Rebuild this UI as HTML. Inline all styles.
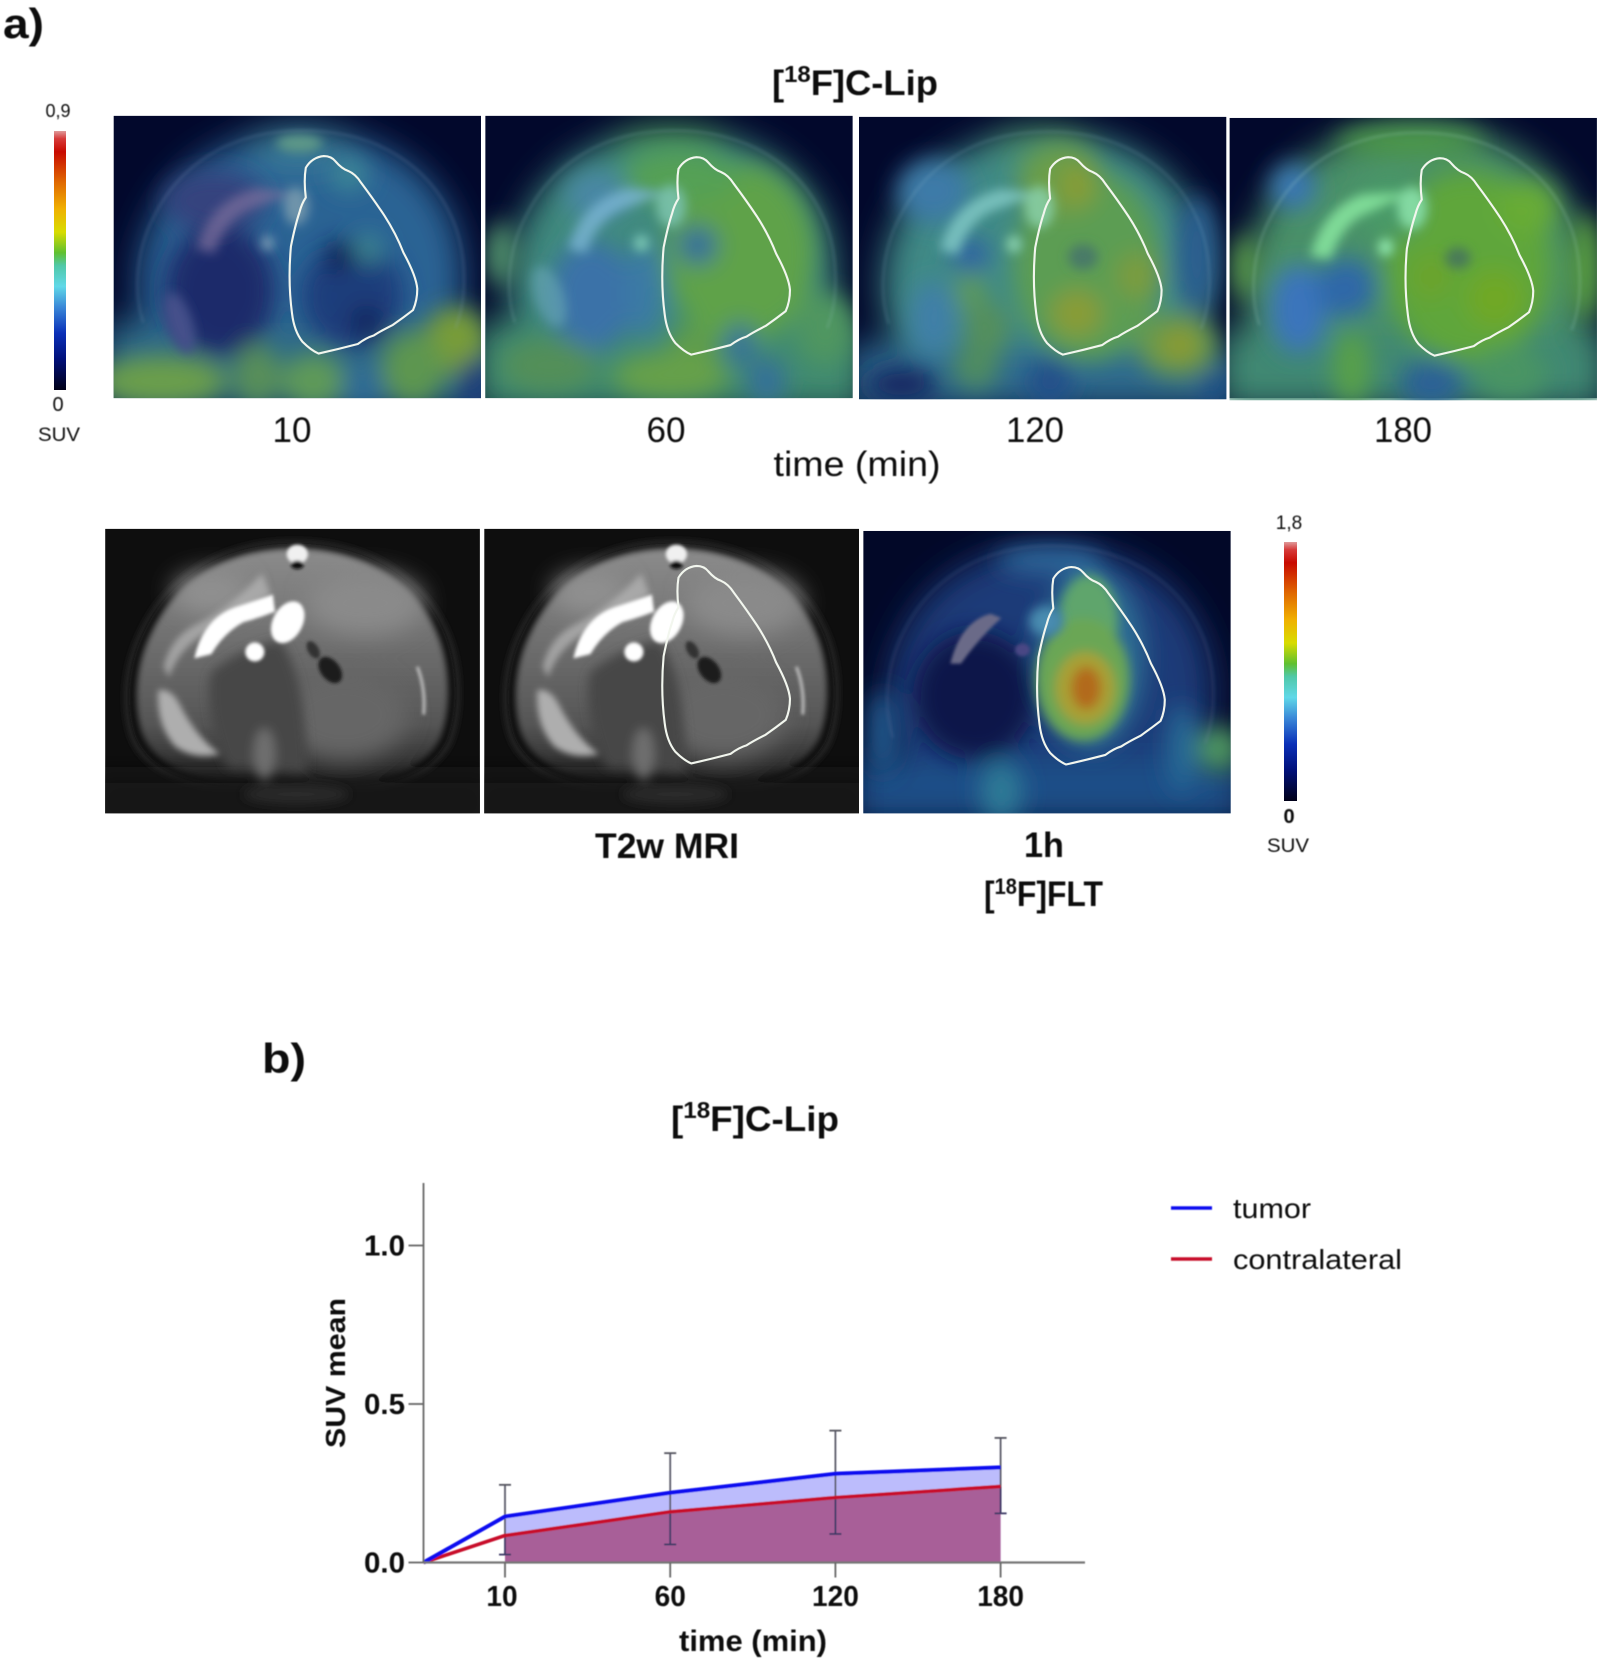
<!DOCTYPE html>
<html lang="en">
<head>
<meta charset="utf-8">
<title>[18F]C-Lip figure</title>
<style>
html,body{margin:0;padding:0;background:#fff;width:1599px;height:1663px;overflow:hidden}
svg{display:block}
.c{font-family:"Liberation Sans",sans-serif;fill:#111}
.b{font-weight:bold}
.m{text-anchor:middle}
</style>
</head>
<body>
<svg id="figure" xmlns="http://www.w3.org/2000/svg" width="1599" height="1663" viewBox="0 0 1599 1663">
<defs>
<filter id="b22" x="-20%" y="-20%" width="140%" height="140%"><feGaussianBlur stdDeviation="16"/></filter>
<filter id="b12" x="-30%" y="-30%" width="160%" height="160%"><feGaussianBlur stdDeviation="11"/></filter>
<filter id="b6" x="-30%" y="-30%" width="160%" height="160%"><feGaussianBlur stdDeviation="5"/></filter>
<filter id="b3" x="-30%" y="-30%" width="160%" height="160%"><feGaussianBlur stdDeviation="3"/></filter>
<filter id="b2" x="-30%" y="-30%" width="160%" height="160%"><feGaussianBlur stdDeviation="1.6"/></filter>
<filter id="soft" x="-2%" y="-2%" width="104%" height="104%"><feGaussianBlur stdDeviation="0.55"/></filter>
<clipPath id="cp1"><rect width="346" height="266"/></clipPath>
<clipPath id="cpm"><rect width="353" height="268"/></clipPath>
<linearGradient id="cbar" x1="0" y1="0" x2="0" y2="1">
<stop offset="0" stop-color="#e09a9a"/><stop offset="0.03" stop-color="#d63a3a"/><stop offset="0.08" stop-color="#c80a00"/><stop offset="0.2" stop-color="#e06a00"/><stop offset="0.3" stop-color="#f0b000"/><stop offset="0.39" stop-color="#d8dc00"/><stop offset="0.47" stop-color="#60c030"/><stop offset="0.52" stop-color="#50c8a8"/><stop offset="0.6" stop-color="#60d8e8"/><stop offset="0.68" stop-color="#3a88d8"/><stop offset="0.78" stop-color="#0a30b8"/><stop offset="0.88" stop-color="#00107a"/><stop offset="1" stop-color="#000018"/>
</linearGradient>
<linearGradient id="mriGray" x1="0" y1="0" x2="0" y2="1">
<stop offset="0" stop-color="#8c8c8c"/><stop offset="0.4" stop-color="#6f6f6f"/><stop offset="0.75" stop-color="#565656"/><stop offset="1" stop-color="#222"/>
</linearGradient>
<path id="head" d="M178,14 C250,14 298,50 318,95 C332,125 334,170 322,200 C305,232 270,240 240,242 L115,242 C75,240 40,225 28,195 C18,165 22,125 38,95 C60,50 106,14 178,14 Z"/>
<path id="arc" d="M28,195 C18,165 22,125 38,95 C60,50 106,14 178,14 C250,14 298,50 318,95 C332,125 334,170 322,200" fill="none"/>
<path id="roi" d="M305,147 Q312,147 316,152 Q322,159 328,161 Q335,164 340,172 Q352,188 362,203 Q373,220 380,238 Q392,260 393,272 Q393,283 389,292 Q380,299 370,306 Q358,312 352,316 Q345,318 337,324 Q318,329 300,333 Q293,330 285,322 Q277,312 275,295 Q271,265 274,232 Q278,212 282,200 Q284,192 288,186 Q286,170 288,158 Q294,148 305,147 Z" fill="none" stroke="#f2f6ee" stroke-width="2" stroke-linejoin="round"/>
<g id="mriBody">
<rect width="353" height="268" fill="#0e0e0e"/>
<g filter="url(#b3)">
<use href="#head" fill="#262626" transform="translate(178 130) scale(1.03) translate(-178 -130)"/>
</g>
<g filter="url(#b2)">
<use href="#head" fill="#101010" transform="translate(178 130) scale(1 1) translate(-178 -130)"/>
</g>
<g filter="url(#b3)">
<use href="#head" fill="url(#mriGray)" transform="translate(178 130) scale(.955 .965) translate(-178 -130)"/>
</g>
<g filter="url(#b12)">
<ellipse cx="245" cy="70" rx="55" ry="30" fill="#8a8a8a"/>
<ellipse cx="100" cy="60" rx="36" ry="20" fill="#909090"/>
<ellipse cx="225" cy="175" rx="60" ry="42" fill="#666"/>
<rect x="-10" y="232" width="373" height="50" fill="#161616"/>
</g>
<g filter="url(#b6)">
<path d="M100,135 Q128,112 165,105 Q190,140 190,230 L115,225 Q92,170 100,135Z" fill="#464646"/>
<ellipse cx="150" cy="212" rx="10" ry="24" fill="#6e6e6e"/>
<ellipse cx="180" cy="250" rx="50" ry="9" fill="#2a2a2a"/>
</g>
<g filter="url(#b3)">
<path d="M55,130 Q62,100 90,88 Q120,72 148,42 L156,62 Q120,82 95,98 Q70,112 60,140Z" fill="#b8b8b8" opacity=".7"/>
<path d="M50,152 Q62,150 70,165 Q85,195 108,212 Q85,218 66,205 Q48,185 50,152Z" fill="#aeaeae"/>
</g>
<g filter="url(#b2)">
<path d="M84,122 Q92,85 122,74 Q146,66 158,62 L160,78 Q145,84 130,88 Q112,98 100,118 Z" fill="#fff"/>
<ellipse cx="172" cy="88" rx="14" ry="21" fill="#fff" transform="rotate(28 172 88)"/>
<ellipse cx="141" cy="116" rx="9" ry="9" fill="#fff"/>
<ellipse cx="181" cy="24" rx="10" ry="9" fill="#f0f0f0"/>
<ellipse cx="181" cy="34" rx="6" ry="4" fill="#111"/>
<ellipse cx="212" cy="133" rx="9" ry="14" fill="#1a1a1a" transform="rotate(-38 212 133)"/>
<ellipse cx="196" cy="114" rx="5" ry="9" fill="#333" transform="rotate(-30 196 114)"/>
<path d="M294,130 Q302,150 300,175" fill="none" stroke="#bcbcbc" stroke-width="3"/>
</g>
</g>
</defs>

<g id="panels" transform="scale(1.0618)">

<g transform="translate(107,109)">
<g clip-path="url(#cp1)">
<rect width="346" height="266" fill="#02082c"/>
<g filter="url(#b22)">
<use href="#head" fill="#2a6494"/>
<rect x="-10" y="195" width="366" height="80" fill="#2d6b88"/>
<ellipse cx="175" cy="28" rx="50" ry="18" fill="#3c8098"/>
</g>
<g filter="url(#b12)">
<ellipse cx="100" cy="165" rx="52" ry="62" fill="#1a2c6a"/>
<ellipse cx="225" cy="170" rx="48" ry="50" fill="#1f3e7c"/>
<ellipse cx="95" cy="80" rx="48" ry="28" fill="#36427e"/>
<ellipse cx="213" cy="132" rx="14" ry="14" fill="#0f1a50"/>
<ellipse cx="238" cy="195" rx="16" ry="18" fill="#16265f"/>
<ellipse cx="240" cy="125" rx="12" ry="14" fill="#3f8a90"/>
<ellipse cx="222" cy="55" rx="18" ry="16" fill="#3d8896"/>
<ellipse cx="45" cy="250" rx="62" ry="24" fill="#6a9e4c"/>
<ellipse cx="135" cy="245" rx="22" ry="30" fill="#588f58"/>
<ellipse cx="188" cy="250" rx="30" ry="26" fill="#5e9a58"/>
<ellipse cx="322" cy="212" rx="30" ry="32" fill="#789c38"/>
<ellipse cx="282" cy="238" rx="30" ry="35" fill="#5d9650"/>
<ellipse cx="342" cy="255" rx="18" ry="28" fill="#1d3f7a"/>
<ellipse cx="235" cy="255" rx="20" ry="20" fill="#2f6a96"/>
</g>
<g filter="url(#b6)">
<path d="M78,125 Q90,80 135,68 L172,72 L125,90 Q105,100 95,130Z" fill="#7d6f9e" opacity=".7"/>
<ellipse cx="172" cy="85" rx="12" ry="18" fill="#7fa0b0" opacity=".8"/>
<ellipse cx="145" cy="120" rx="6" ry="7" fill="#7fa0b8"/>
<ellipse cx="175" cy="26" rx="22" ry="8" fill="#5f9a88"/>
<ellipse cx="62" cy="195" rx="12" ry="30" fill="#44508a" transform="rotate(-18 62 195)"/>
</g>
<use href="#arc" stroke="#8aa8c8" stroke-width="2" opacity=".22" filter="url(#b2)"/>
</g>
</g>

<g transform="translate(457,109)">
<g clip-path="url(#cp1)">
<rect width="348" height="266" fill="#02082c"/>
<g filter="url(#b22)">
<use href="#head" fill="#3f8a7e"/>
<rect x="-10" y="195" width="370" height="85" fill="#3f8a70"/>
<ellipse cx="175" cy="26" rx="55" ry="16" fill="#4c9a60"/>
</g>
<g filter="url(#b12)">
<ellipse cx="240" cy="130" rx="70" ry="85" fill="#5fa248"/>
<ellipse cx="185" cy="58" rx="55" ry="25" fill="#55a055"/>
<ellipse cx="100" cy="170" rx="40" ry="52" fill="#3a72a8"/>
<ellipse cx="105" cy="75" rx="30" ry="24" fill="#4a87a4"/>
<ellipse cx="200" cy="122" rx="18" ry="18" fill="#336a9e"/>
<ellipse cx="150" cy="165" rx="18" ry="45" fill="#3a7aa4"/>
<ellipse cx="240" cy="215" rx="14" ry="20" fill="#35709c"/>
<ellipse cx="195" cy="225" rx="24" ry="28" fill="#5e9c4c"/>
<ellipse cx="60" cy="235" rx="45" ry="25" fill="#528f58"/>
<ellipse cx="175" cy="245" rx="55" ry="22" fill="#66a04a"/>
<ellipse cx="265" cy="250" rx="18" ry="22" fill="#34709a"/>
<ellipse cx="320" cy="200" rx="28" ry="35" fill="#4f9660"/>
<ellipse cx="15" cy="130" rx="15" ry="30" fill="#4f8f6a"/>
</g>
<g filter="url(#b6)">
<path d="M78,125 Q90,80 135,68 L172,72 L125,90 Q105,100 95,130Z" fill="#7fb8d8" opacity=".75"/>
<ellipse cx="175" cy="85" rx="14" ry="20" fill="#7cc4b0" opacity=".85"/>
<ellipse cx="147" cy="120" rx="7" ry="8" fill="#7cc8b4"/>
<ellipse cx="60" cy="170" rx="14" ry="30" fill="#6aa8b8" opacity=".6" transform="rotate(-20 60 170)"/>
</g>
<use href="#arc" stroke="#9cc8c8" stroke-width="2" opacity=".22" filter="url(#b2)"/>
</g>
</g>

<g transform="translate(809,110)">
<g clip-path="url(#cp1)">
<rect width="346" height="266" fill="#02082c"/>
<g filter="url(#b22)">
<use href="#head" fill="#3f8a86"/>
<rect x="-10" y="215" width="366" height="60" fill="#2d6a8e"/>
<ellipse cx="172" cy="26" rx="50" ry="16" fill="#4c9470"/>
</g>
<g filter="url(#b12)">
<ellipse cx="215" cy="140" rx="70" ry="90" fill="#5c9d52"/>
<ellipse cx="190" cy="60" rx="40" ry="35" fill="#6a9e48"/>
<ellipse cx="205" cy="65" rx="14" ry="20" fill="#8a9c30"/>
<ellipse cx="205" cy="185" rx="24" ry="22" fill="#8a9c34"/>
<ellipse cx="262" cy="150" rx="20" ry="22" fill="#7b9c3c"/>
<ellipse cx="105" cy="130" rx="18" ry="16" fill="#2f62a4"/>
<ellipse cx="70" cy="70" rx="34" ry="30" fill="#3d7aa8"/>
<ellipse cx="70" cy="190" rx="22" ry="35" fill="#3f7fa8"/>
<ellipse cx="105" cy="165" rx="14" ry="18" fill="#5e9a58"/>
<ellipse cx="120" cy="200" rx="22" ry="26" fill="#548f5c"/>
<ellipse cx="40" cy="252" rx="34" ry="18" fill="#122a64"/>
<ellipse cx="180" cy="250" rx="22" ry="22" fill="#24508a"/>
<ellipse cx="110" cy="235" rx="22" ry="22" fill="#4f8c60"/>
<ellipse cx="300" cy="215" rx="38" ry="30" fill="#6c9a48"/>
<ellipse cx="302" cy="215" rx="15" ry="15" fill="#8f9a2c"/>
<ellipse cx="318" cy="130" rx="20" ry="55" fill="#2a5e90"/>
<ellipse cx="335" cy="255" rx="16" ry="16" fill="#1f4f86"/>
</g>
<g filter="url(#b6)">
<path d="M76,125 Q88,80 133,68 L170,72 L123,90 Q103,100 93,130Z" fill="#84ccc8" opacity=".8"/>
<ellipse cx="170" cy="85" rx="14" ry="20" fill="#88d0a8" opacity=".85"/>
<ellipse cx="146" cy="120" rx="7" ry="8" fill="#88d0b0"/>
<ellipse cx="211" cy="132" rx="14" ry="12" fill="#4a7a68"/>
</g>
<use href="#arc" stroke="#9cc8d8" stroke-width="2" opacity=".2" filter="url(#b2)"/>
</g>
</g>

<g transform="translate(1158,111)">
<g clip-path="url(#cp1)">
<rect width="346" height="264" fill="#02082c"/>
<g filter="url(#b22)">
<use href="#head" fill="#4a9068" transform="translate(173 130) scale(1.06) translate(-173 -130)"/>
<rect x="-10" y="200" width="366" height="75" fill="#3f8872"/>
</g>
<g filter="url(#b12)">
<ellipse cx="170" cy="22" rx="70" ry="14" fill="#4d9a48"/>
<ellipse cx="225" cy="140" rx="78" ry="90" fill="#5fa63a"/>
<ellipse cx="280" cy="85" rx="28" ry="25" fill="#68ac34"/>
<ellipse cx="250" cy="170" rx="28" ry="28" fill="#70a828"/>
<ellipse cx="190" cy="150" rx="18" ry="22" fill="#6ca42c"/>
<ellipse cx="60" cy="65" rx="22" ry="22" fill="#3a78b4"/>
<ellipse cx="65" cy="180" rx="28" ry="42" fill="#3a74bc"/>
<ellipse cx="110" cy="160" rx="28" ry="28" fill="#2e68a8"/>
<ellipse cx="150" cy="85" rx="30" ry="30" fill="#4a9a68"/>
<ellipse cx="190" cy="250" rx="30" ry="22" fill="#2a6096"/>
<ellipse cx="115" cy="235" rx="18" ry="35" fill="#58a048"/>
<ellipse cx="265" cy="240" rx="35" ry="25" fill="#4a9464"/>
<ellipse cx="15" cy="140" rx="12" ry="30" fill="#5a9c48"/>
<ellipse cx="335" cy="140" rx="14" ry="50" fill="#5aa040"/>
</g>
<g filter="url(#b6)">
<path d="M76,130 Q88,85 125,72 L172,70 L125,92 Q106,102 95,133Z" fill="#88e8a0" opacity=".85"/>
<ellipse cx="172" cy="85" rx="14" ry="20" fill="#88e0a8" opacity=".9"/>
<ellipse cx="147" cy="122" rx="7" ry="8" fill="#90e8b0"/>
<ellipse cx="215" cy="132" rx="12" ry="10" fill="#4a7a58"/>
</g>
<use href="#arc" stroke="#b0e0d0" stroke-width="2" opacity=".25" filter="url(#b2)"/>
</g>
</g>

<g transform="translate(99,498)">
<g clip-path="url(#cpm)"><use href="#mriBody"/></g>
</g>

<g transform="translate(456,498)">
<g clip-path="url(#cpm)"><use href="#mriBody"/></g>
</g>

<g transform="translate(813,500)">
<g clip-path="url(#cp1)">
<rect width="348" height="266" fill="#020828"/>
<g filter="url(#b22)">
<use href="#head" fill="#1d3a78"/>
<rect x="-10" y="215" width="370" height="60" fill="#1f5088"/>
</g>
<g filter="url(#b12)">
<ellipse cx="105" cy="155" rx="58" ry="60" fill="#10134a"/>
<ellipse cx="175" cy="28" rx="50" ry="12" fill="#2f6a9c"/>
<ellipse cx="215" cy="120" rx="50" ry="85" fill="#2f6e94"/>
<ellipse cx="130" cy="245" rx="20" ry="28" fill="#2f7a96"/>
<ellipse cx="335" cy="205" rx="20" ry="22" fill="#4f9860"/>
<ellipse cx="300" cy="205" rx="14" ry="42" fill="#276a96"/>
<ellipse cx="18" cy="190" rx="14" ry="40" fill="#245a8e"/>
</g>
<g filter="url(#b6)">
<ellipse cx="212" cy="85" rx="28" ry="44" fill="#5fa56c"/>
<ellipse cx="207" cy="140" rx="44" ry="58" fill="#6aa654"/>
<ellipse cx="209" cy="148" rx="28" ry="34" fill="#a8a034"/>
<ellipse cx="210" cy="148" rx="14" ry="20" fill="#b26a1e"/>
</g>
<g filter="url(#b2)">
<path d="M82,125 Q92,85 120,78 L130,82 Q110,100 92,125Z" fill="#6a6a88"/>
<ellipse cx="150" cy="112" rx="7" ry="6" fill="#4a4684"/>
</g>
<g filter="url(#b6)"><ellipse cx="172" cy="85" rx="16" ry="14" fill="#4a8cb0"/></g>
<use href="#arc" stroke="#8890b8" stroke-width="2" opacity=".2" filter="url(#b2)"/>
</g>
</g>

<use href="#roi"/>
<use href="#roi" x="351" y="1"/>
<use href="#roi" x="701" y="1"/>
<use href="#roi" x="1051" y="2"/>
<use href="#roi" x="351" y="386"/>
<use href="#roi" x="704" y="387"/>
</g>

<rect x="54" y="131" width="12" height="259" fill="url(#cbar)"/>
<rect x="1284" y="542" width="13" height="259" fill="url(#cbar)"/>

<g id="texts" filter="url(#soft)">
<text class="c b" x="3" y="38" font-size="42" textLength="41" lengthAdjust="spacingAndGlyphs">a)</text>
<text class="c b" x="772" y="95" font-size="35" textLength="166" lengthAdjust="spacingAndGlyphs">[<tspan font-size="23" dy="-13">18</tspan><tspan dy="13">F]C-Lip</tspan></text>
<text class="c m" x="58" y="117" font-size="18">0,9</text>
<text class="c m" x="58" y="411" font-size="20">0</text>
<text class="c m" x="59" y="441" font-size="19" textLength="42" lengthAdjust="spacingAndGlyphs">SUV</text>
<text class="c m" x="292" y="442" font-size="35" textLength="39" lengthAdjust="spacingAndGlyphs">10</text>
<text class="c m" x="666" y="442" font-size="35" textLength="39" lengthAdjust="spacingAndGlyphs">60</text>
<text class="c m" x="1035" y="442" font-size="35" textLength="58" lengthAdjust="spacingAndGlyphs">120</text>
<text class="c m" x="1403" y="442" font-size="35" textLength="58" lengthAdjust="spacingAndGlyphs">180</text>
<text class="c m" x="857" y="476" font-size="35" textLength="167" lengthAdjust="spacingAndGlyphs">time (min)</text>
<text class="c b m" x="667" y="858" font-size="35" textLength="144" lengthAdjust="spacingAndGlyphs">T2w MRI</text>
<text class="c b m" x="1044" y="857" font-size="35" textLength="40" lengthAdjust="spacingAndGlyphs">1h</text>
<text class="c b" x="984" y="906" font-size="35" textLength="119" lengthAdjust="spacingAndGlyphs">[<tspan font-size="22" dy="-12">18</tspan><tspan dy="12">F]FLT</tspan></text>
<text class="c m" x="1289" y="529" font-size="19">1,8</text>
<text class="c b m" x="1289" y="823" font-size="20">0</text>
<text class="c m" x="1288" y="852" font-size="19" textLength="42" lengthAdjust="spacingAndGlyphs">SUV</text>
<text class="c b" x="262" y="1073" font-size="42" textLength="44" lengthAdjust="spacingAndGlyphs">b)</text>
</g>

<g id="chart" filter="url(#soft)"></g>
</svg>

<script>
var categories = ["10", "60", "120", "180"];
var tumorValues = [0.145, 0.22, 0.28, 0.30];
var contralateralValues = [0.085, 0.16, 0.205, 0.24];
var tumorUpper = [0.245, 0.345, 0.416, 0.393];
var contralateralLower = [0.025, 0.057, 0.09, 0.155];
var originValue = 0;
var yTicks = [0, 0.5, 1.0];
var yTickLabels = ["0.0", "0.5", "1.0"];
var legendLabels = ["tumor", "contralateral"];

var NS = "http://www.w3.org/2000/svg";
var chart = document.getElementById("chart");
var AX = 423.5, AY = 1562.5, PER_UNIT = 317, FIRST = 505, STEP = 165.2;

function xScale(i) { return FIRST + i * STEP; }
function yScale(v) { return AY - v * PER_UNIT; }
function mk(tag, attrs, text) {
  var e = document.createElementNS(NS, tag);
  for (var k in attrs) { e.setAttribute(k, attrs[k]); }
  if (text !== undefined) { e.textContent = text; }
  return e;
}
function linePts(vals) {
  var p = [AX + "," + yScale(originValue)];
  vals.forEach(function (v, i) { p.push(xScale(i) + "," + yScale(v)); });
  return p.join(" ");
}
function areaPts(vals) {
  var p = [xScale(0) + "," + AY];
  vals.forEach(function (v, i) { p.push(xScale(i) + "," + yScale(v)); });
  p.push(xScale(vals.length - 1) + "," + AY);
  return p.join(" ");
}

var title = mk("text", { "class": "c b", x: 671, y: 1131, "font-size": 35, textLength: 168, lengthAdjust: "spacingAndGlyphs" });


title.innerHTML = '[<tspan font-size="23" dy="-13">18</tspan><tspan dy="13">F]C-Lip</tspan>';
chart.appendChild(title);

var tumorArea = mk("polygon", { points: areaPts(tumorValues), fill: "#bcbcfc" });


chart.appendChild(tumorArea);

var contraArea = mk("polygon", { points: areaPts(contralateralValues), fill: "#a85e98" });


chart.appendChild(contraArea);

categories.forEach(function (c, i) {
  var x = xScale(i);
  var top = yScale(tumorUpper[i]), bot = yScale(contralateralLower[i]);
  var stem = mk("line", { x1: x, x2: x, y1: top, y2: yScale(contralateralValues[i]), stroke: "#5c5c6a", "stroke-width": 1.8 });
  
  
  chart.appendChild(stem);
  var lower = mk("line", { x1: x, x2: x, y1: yScale(contralateralValues[i]), y2: bot, stroke: "#3e3a66", "stroke-width": 1.8 });
  
  
  chart.appendChild(lower);
  var capT = mk("line", { x1: x - 6, x2: x + 6, y1: top, y2: top, stroke: "#55555f", "stroke-width": 1.8 });
  
  
  chart.appendChild(capT);
  var capB = mk("line", { x1: x - 6, x2: x + 6, y1: bot, y2: bot, stroke: "#3e3a66", "stroke-width": 1.8 });
  
  
  chart.appendChild(capB);
});

var redLine = mk("polyline", { points: linePts(contralateralValues), fill: "none", stroke: "#c8102a", "stroke-width": 3.6 });


chart.appendChild(redLine);

var blueLine = mk("polyline", { points: linePts(tumorValues), fill: "none", stroke: "#1010f0", "stroke-width": 4 });


chart.appendChild(blueLine);

var yAxis = mk("line", { x1: AX, x2: AX, y1: 1183, y2: AY, stroke: "#666", "stroke-width": 1.8 });


chart.appendChild(yAxis);

var xAxis = mk("line", { x1: AX, x2: 1085, y1: AY, y2: AY, stroke: "#777", "stroke-width": 2.2 });


chart.appendChild(xAxis);

yTicks.forEach(function (t, i) {
  var y = yScale(t);
  var tick = mk("line", { x1: AX - 15, x2: AX, y1: y, y2: y, stroke: "#666", "stroke-width": 1.8 });
  
  
  chart.appendChild(tick);
  var lab = mk("text", { "class": "c b", x: 405, y: y + 10, "font-size": 29, "text-anchor": "end", textLength: 41, lengthAdjust: "spacingAndGlyphs" }, yTickLabels[i]);
  
  
  chart.appendChild(lab);
});

categories.forEach(function (c, i) {
  var x = xScale(i);
  var tick = mk("line", { x1: x, x2: x, y1: AY, y2: AY + 15, stroke: "#666", "stroke-width": 1.8 });
  
  
  chart.appendChild(tick);
  var lab = mk("text", { "class": "c b m", x: i === 0 ? x - 3 : x, y: 1606, "font-size": 29, textLength: c.length * 15.6, lengthAdjust: "spacingAndGlyphs" }, c);
  
  
  chart.appendChild(lab);
});

var xTitle = mk("text", { "class": "c b m", x: 753, y: 1651, "font-size": 30, textLength: 148, lengthAdjust: "spacingAndGlyphs" }, "time (min)");


chart.appendChild(xTitle);

var yTitle = mk("text", { "class": "c m", x: 0, y: 0, "font-size": 28, "font-weight": 600, transform: "translate(345 1373) rotate(-90)", textLength: 150, lengthAdjust: "spacingAndGlyphs" }, "SUV mean");


chart.appendChild(yTitle);

var legendColors = ["#1010f0", "#c8102a"];
var legendY = [1208, 1259];
legendLabels.forEach(function (l, i) {
  var sw = mk("line", { x1: 1171, x2: 1212, y1: legendY[i], y2: legendY[i], stroke: legendColors[i], "stroke-width": 3.6 });
  
  
  chart.appendChild(sw);
  var tx = mk("text", { "class": "c", x: 1233, y: legendY[i] + 10, "font-size": 28, textLength: l.length > 5 ? 169 : 78, lengthAdjust: "spacingAndGlyphs" }, l);
  
  
  chart.appendChild(tx);
});
</script>
</body>
</html>
